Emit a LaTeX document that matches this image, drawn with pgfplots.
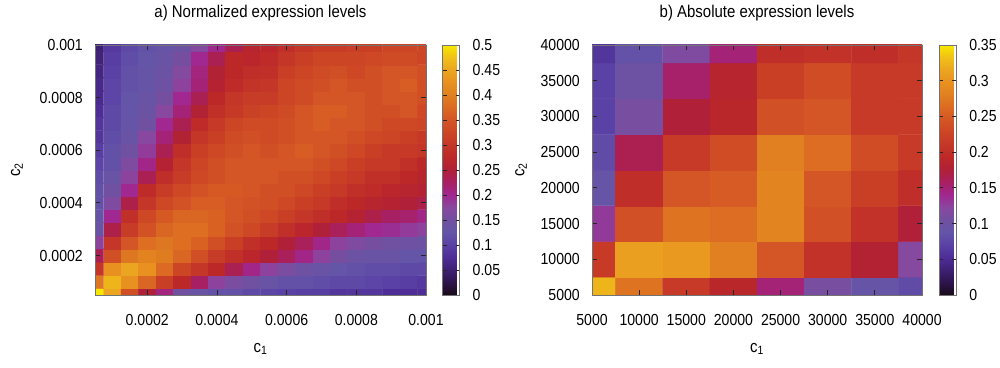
\documentclass[border=0pt]{standalone}
\usepackage{fontspec}
\setmainfont{Liberation Sans}[FakeStretch=0.88]
\usepackage{pgfplots}
\pgfplotsset{compat=1.18}
\pgfplotsset{colormap={gp}{rgb255=(25,10,25) rgb255=(45,20,75) rgb255=(62,32,115) rgb255=(78,45,150) rgb255=(90,65,165) rgb255=(100,85,168) rgb255=(112,80,160) rgb255=(136,72,160) rgb255=(160,40,144) rgb255=(168,32,100) rgb255=(176,32,56) rgb255=(188,40,40) rgb255=(196,54,40) rgb255=(204,69,37) rgb255=(212,85,37) rgb255=(220,106,34) rgb255=(224,128,32) rgb255=(232,144,32) rgb255=(235,165,32) rgb255=(240,192,24) rgb255=(248,232,0)}}
\pgfplotsset{
  gpstyle/.style={
    scale only axis, height=250pt, enlargelimits=false, axis on top,
    scaled ticks=false,
    colormap name=gp,
    axis line style={draw=black!55, line width=0.6pt},
    tick align=inside, major tick length=5pt,
    tick style={black!85, line width=0.8pt},
    tick label style={font=\fontsize{16}{16}\selectfont},
    xticklabel style={anchor=center, inner sep=0pt, yshift=-24.5pt},
    yticklabel style={anchor=east, inner sep=0pt, xshift=-12pt},
    title style={font=\fontsize{17}{17}\selectfont, anchor=center, at={(axis description cs:0.5,1.104)}},
    xlabel style={font=\fontsize{17}{17}\selectfont, anchor=center, at={(axis description cs:0.5,-0.216)}},
    label style={font=\fontsize{17}{17}\selectfont},
    colorbar,
  },
  cbstyle/.style={
    scale only axis, width=17pt, height=250pt,
    scaled ticks=false,
    axis line style={draw=black!55, line width=0.6pt},
    tick align=inside, major tick length=4pt,
    tick style={black!85, line width=0.8pt},
    ytick pos=both, yticklabel pos=right,
    yticklabel style={font=\fontsize{16}{16}\selectfont, anchor=west, inner sep=0pt, xshift=13pt},
  },
}
\begin{document}
\begin{tikzpicture}
\useasboundingbox (0,0) rectangle (1000pt,367pt);
\begin{axis}[gpstyle, at={(95pt,72pt)}, anchor=south west, width=331pt,
  xmin=1, xmax=20, ymin=1, ymax=20,
  xtick={4,8,12,16,20}, xticklabels={0.0002,0.0004,0.0006,0.0008,0.001},
  ytick={4,8,12,16,20}, yticklabels={0.0002,0.0004,0.0006,0.0008,0.001},
  title={a) Normalized expression levels},
  xlabel={c\textsubscript{1}}, ylabel={c\textsubscript{2}},
  ylabel style={anchor=center, at={(axis description cs:-0.236,0.5)}},
  point meta min=0, point meta max=0.5,
  colorbar style={cbstyle, at={(parent axis.north east)}, anchor=north west, xshift=8pt,
    ytick={0,0.05,0.1,0.15,0.2,0.25,0.3,0.35,0.4,0.45,0.5},
    yticklabels={0,0.05,0.1,0.15,0.2,0.25,0.3,0.35,0.4,0.45,0.5}},
]
\addplot[matrix plot*, mesh/cols=20, point meta=explicit] coordinates {
(1,1) [0.5] (2,1) [0.45] (3,1) [0.34] (4,1) [0.25] (5,1) [0.21] (6,1) [0.15] (7,1) [0.135] (8,1) [0.12] (9,1) [0.12] (10,1) [0.11] (11,1) [0.105] (12,1) [0.1] (13,1) [0.095] (14,1) [0.095] (15,1) [0.085] (16,1) [0.085] (17,1) [0.085] (18,1) [0.075] (19,1) [0.075] (20,1) [0.075]
(1,2) [0.39] (2,2) [0.465] (3,2) [0.425] (4,2) [0.37] (5,2) [0.315] (6,2) [0.275] (7,2) [0.225] (8,2) [0.18] (9,2) [0.16] (10,2) [0.15] (11,2) [0.135] (12,2) [0.12] (13,2) [0.12] (14,2) [0.115] (15,2) [0.11] (16,2) [0.11] (17,2) [0.105] (18,2) [0.1] (19,2) [0.095] (20,2) [0.09]
(1,3) [0.3] (2,3) [0.425] (3,3) [0.45] (4,3) [0.425] (5,3) [0.375] (6,3) [0.325] (7,3) [0.3] (8,3) [0.275] (9,3) [0.235] (10,3) [0.205] (11,3) [0.18] (12,3) [0.16] (13,3) [0.145] (14,3) [0.135] (15,3) [0.125] (16,3) [0.12] (17,3) [0.115] (18,3) [0.115] (19,3) [0.11] (20,3) [0.11]
(1,4) [0.235] (2,4) [0.34] (3,4) [0.39] (4,4) [0.405] (5,4) [0.395] (6,4) [0.37] (7,4) [0.34] (8,4) [0.31] (9,4) [0.29] (10,4) [0.27] (11,4) [0.25] (12,4) [0.23] (13,4) [0.205] (14,4) [0.18] (15,4) [0.155] (16,4) [0.14] (17,4) [0.135] (18,4) [0.135] (19,4) [0.125] (20,4) [0.125]
(1,5) [0.18] (2,5) [0.3] (3,5) [0.35] (4,5) [0.38] (5,5) [0.39] (6,5) [0.38] (7,5) [0.365] (8,5) [0.34] (9,5) [0.315] (10,5) [0.29] (11,5) [0.275] (12,5) [0.25] (13,5) [0.23] (14,5) [0.205] (15,5) [0.18] (16,5) [0.165] (17,5) [0.155] (18,5) [0.15] (19,5) [0.145] (20,5) [0.14]
(1,6) [0.135] (2,6) [0.24] (3,6) [0.31] (4,6) [0.345] (5,6) [0.37] (6,6) [0.38] (7,6) [0.38] (8,6) [0.365] (9,6) [0.345] (10,6) [0.33] (11,6) [0.31] (12,6) [0.29] (13,6) [0.27] (14,6) [0.25] (15,6) [0.23] (16,6) [0.215] (17,6) [0.2] (18,6) [0.195] (19,6) [0.185] (20,6) [0.18]
(1,7) [0.13] (2,7) [0.2] (3,7) [0.29] (4,7) [0.33] (5,7) [0.355] (6,7) [0.37] (7,7) [0.37] (8,7) [0.365] (9,7) [0.35] (10,7) [0.34] (11,7) [0.33] (12,7) [0.315] (13,7) [0.3] (14,7) [0.285] (15,7) [0.275] (16,7) [0.26] (17,7) [0.24] (18,7) [0.225] (19,7) [0.22] (20,7) [0.205]
(1,8) [0.12] (2,8) [0.165] (3,8) [0.24] (4,8) [0.3] (5,8) [0.33] (6,8) [0.345] (7,8) [0.36] (8,8) [0.36] (9,8) [0.35] (10,8) [0.345] (11,8) [0.34] (12,8) [0.33] (13,8) [0.315] (14,8) [0.305] (15,8) [0.285] (16,8) [0.275] (17,8) [0.265] (18,8) [0.26] (19,8) [0.25] (20,8) [0.24]
(1,9) [0.12] (2,9) [0.15] (3,9) [0.2] (4,9) [0.28] (5,9) [0.31] (6,9) [0.33] (7,9) [0.345] (8,9) [0.355] (9,9) [0.355] (10,9) [0.35] (11,9) [0.34] (12,9) [0.34] (13,9) [0.33] (14,9) [0.315] (15,9) [0.305] (16,9) [0.29] (17,9) [0.28] (18,9) [0.27] (19,9) [0.265] (20,9) [0.26]
(1,10) [0.115] (2,10) [0.135] (3,10) [0.18] (4,10) [0.235] (5,10) [0.285] (6,10) [0.31] (7,10) [0.33] (8,10) [0.34] (9,10) [0.35] (10,10) [0.35] (11,10) [0.35] (12,10) [0.34] (13,10) [0.34] (14,10) [0.33] (15,10) [0.315] (16,10) [0.305] (17,10) [0.29] (18,10) [0.29] (19,10) [0.275] (20,10) [0.265]
(1,11) [0.105] (2,11) [0.12] (3,11) [0.165] (4,11) [0.205] (5,11) [0.26] (6,11) [0.3] (7,11) [0.325] (8,11) [0.34] (9,11) [0.35] (10,11) [0.35] (11,11) [0.35] (12,11) [0.35] (13,11) [0.35] (14,11) [0.34] (15,11) [0.33] (16,11) [0.315] (17,11) [0.305] (18,11) [0.305] (19,11) [0.29] (20,11) [0.275]
(1,12) [0.095] (2,12) [0.12] (3,12) [0.15] (4,12) [0.185] (5,12) [0.235] (6,12) [0.285] (7,12) [0.315] (8,12) [0.33] (9,12) [0.34] (10,12) [0.35] (11,12) [0.34] (12,12) [0.35] (13,12) [0.36] (14,12) [0.35] (15,12) [0.34] (16,12) [0.33] (17,12) [0.315] (18,12) [0.305] (19,12) [0.305] (20,12) [0.3]
(1,13) [0.085] (2,13) [0.115] (3,13) [0.135] (4,13) [0.175] (5,13) [0.215] (6,13) [0.255] (7,13) [0.3] (8,13) [0.315] (9,13) [0.335] (10,13) [0.34] (11,13) [0.335] (12,13) [0.34] (13,13) [0.35] (14,13) [0.35] (15,13) [0.35] (16,13) [0.34] (17,13) [0.33] (18,13) [0.325] (19,13) [0.315] (20,13) [0.305]
(1,14) [0.085] (2,14) [0.11] (3,14) [0.13] (4,14) [0.15] (5,14) [0.2] (6,14) [0.235] (7,14) [0.28] (8,14) [0.305] (9,14) [0.325] (10,14) [0.335] (11,14) [0.335] (12,14) [0.34] (13,14) [0.35] (14,14) [0.36] (15,14) [0.35] (16,14) [0.35] (17,14) [0.34] (18,14) [0.33] (19,14) [0.33] (20,14) [0.325]
(1,15) [0.075] (2,15) [0.11] (3,15) [0.125] (4,15) [0.14] (5,15) [0.175] (6,15) [0.215] (7,15) [0.255] (8,15) [0.29] (9,15) [0.305] (10,15) [0.32] (11,15) [0.325] (12,15) [0.335] (13,15) [0.35] (14,15) [0.36] (15,15) [0.36] (16,15) [0.35] (17,15) [0.34] (18,15) [0.34] (19,15) [0.35] (20,15) [0.33]
(1,16) [0.07] (2,16) [0.105] (3,16) [0.125] (4,16) [0.135] (5,16) [0.155] (6,16) [0.2] (7,16) [0.235] (8,16) [0.275] (9,16) [0.3] (10,16) [0.31] (11,16) [0.31] (12,16) [0.325] (13,16) [0.335] (14,16) [0.35] (15,16) [0.35] (16,16) [0.35] (17,16) [0.34] (18,16) [0.35] (19,16) [0.35] (20,16) [0.34]
(1,17) [0.065] (2,17) [0.105] (3,17) [0.12] (4,17) [0.13] (5,17) [0.145] (6,17) [0.18] (7,17) [0.215] (8,17) [0.26] (9,17) [0.28] (10,17) [0.295] (11,17) [0.3] (12,17) [0.325] (13,17) [0.335] (14,17) [0.34] (15,17) [0.35] (16,17) [0.34] (17,17) [0.34] (18,17) [0.35] (19,17) [0.36] (20,17) [0.34]
(1,18) [0.06] (2,18) [0.1] (3,18) [0.12] (4,18) [0.13] (5,18) [0.14] (6,18) [0.17] (7,18) [0.21] (8,18) [0.255] (9,18) [0.275] (10,18) [0.285] (11,18) [0.29] (12,18) [0.315] (13,18) [0.325] (14,18) [0.335] (15,18) [0.34] (16,18) [0.33] (17,18) [0.34] (18,18) [0.35] (19,18) [0.35] (20,18) [0.34]
(1,19) [0.055] (2,19) [0.095] (3,19) [0.115] (4,19) [0.125] (5,19) [0.135] (6,19) [0.155] (7,19) [0.2] (8,19) [0.235] (9,19) [0.275] (10,19) [0.27] (11,19) [0.28] (12,19) [0.3] (13,19) [0.315] (14,19) [0.325] (15,19) [0.325] (16,19) [0.325] (17,19) [0.33] (18,19) [0.335] (19,19) [0.335] (20,19) [0.325]
(1,20) [0.05] (2,20) [0.09] (3,20) [0.11] (4,20) [0.12] (5,20) [0.13] (6,20) [0.14] (7,20) [0.17] (8,20) [0.2] (9,20) [0.235] (10,20) [0.265] (11,20) [0.27] (12,20) [0.285] (13,20) [0.3] (14,20) [0.31] (15,20) [0.31] (16,20) [0.315] (17,20) [0.315] (18,20) [0.325] (19,20) [0.325] (20,20) [0.325]
};
\end{axis}
\begin{axis}[gpstyle, at={(592pt,72pt)}, anchor=south west, width=330pt,
  xmin=5000, xmax=40000, ymin=5000, ymax=40000,
  xtick={5000,10000,15000,20000,25000,30000,35000,40000},
  xticklabels={5000,10000,15000,20000,25000,30000,35000,40000},
  ytick={5000,10000,15000,20000,25000,30000,35000,40000},
  yticklabels={5000,10000,15000,20000,25000,30000,35000,40000},
  title={b) Absolute expression levels},
  xlabel={c\textsubscript{1}}, ylabel={c\textsubscript{2}},
  ylabel style={anchor=center, at={(axis description cs:-0.215,0.5)}},
  point meta min=0, point meta max=0.35,
  colorbar style={cbstyle, at={(parent axis.north east)}, anchor=north west, xshift=8.5pt,
    ytick={0,0.05,0.1,0.15,0.2,0.25,0.3,0.35},
    yticklabels={0,0.05,0.1,0.15,0.2,0.25,0.3,0.35}},
]
\addplot[matrix plot*, mesh/cols=8, point meta=explicit] coordinates {
(5000,5000) [0.325] (10000,5000) [0.27] (15000,5000) [0.215] (20000,5000) [0.19] (25000,5000) [0.15] (30000,5000) [0.11] (35000,5000) [0.09] (40000,5000) [0.08]
(5000,10000) [0.215] (10000,10000) [0.31] (15000,10000) [0.305] (20000,10000) [0.28] (25000,10000) [0.245] (30000,10000) [0.205] (35000,10000) [0.18] (40000,10000) [0.12]
(5000,15000) [0.13] (10000,15000) [0.24] (15000,15000) [0.27] (20000,15000) [0.265] (25000,15000) [0.285] (30000,15000) [0.24] (35000,15000) [0.205] (40000,15000) [0.175]
(5000,20000) [0.09] (10000,20000) [0.2] (15000,20000) [0.245] (20000,20000) [0.25] (25000,20000) [0.285] (30000,20000) [0.245] (35000,20000) [0.22] (40000,20000) [0.2]
(5000,25000) [0.08] (10000,25000) [0.165] (15000,25000) [0.215] (20000,25000) [0.235] (25000,25000) [0.28] (30000,25000) [0.265] (35000,25000) [0.235] (40000,25000) [0.215]
(5000,30000) [0.07] (10000,30000) [0.11] (15000,30000) [0.175] (20000,30000) [0.19] (25000,30000) [0.24] (30000,30000) [0.245] (35000,30000) [0.215] (40000,30000) [0.215]
(5000,35000) [0.07] (10000,35000) [0.1] (15000,35000) [0.155] (20000,35000) [0.185] (25000,35000) [0.22] (30000,35000) [0.235] (35000,35000) [0.215] (40000,35000) [0.215]
(5000,40000) [0.06] (10000,40000) [0.085] (15000,40000) [0.115] (20000,40000) [0.15] (25000,40000) [0.2] (30000,40000) [0.205] (35000,40000) [0.2] (40000,40000) [0.21]
};
\end{axis}
\end{tikzpicture}
\end{document}
